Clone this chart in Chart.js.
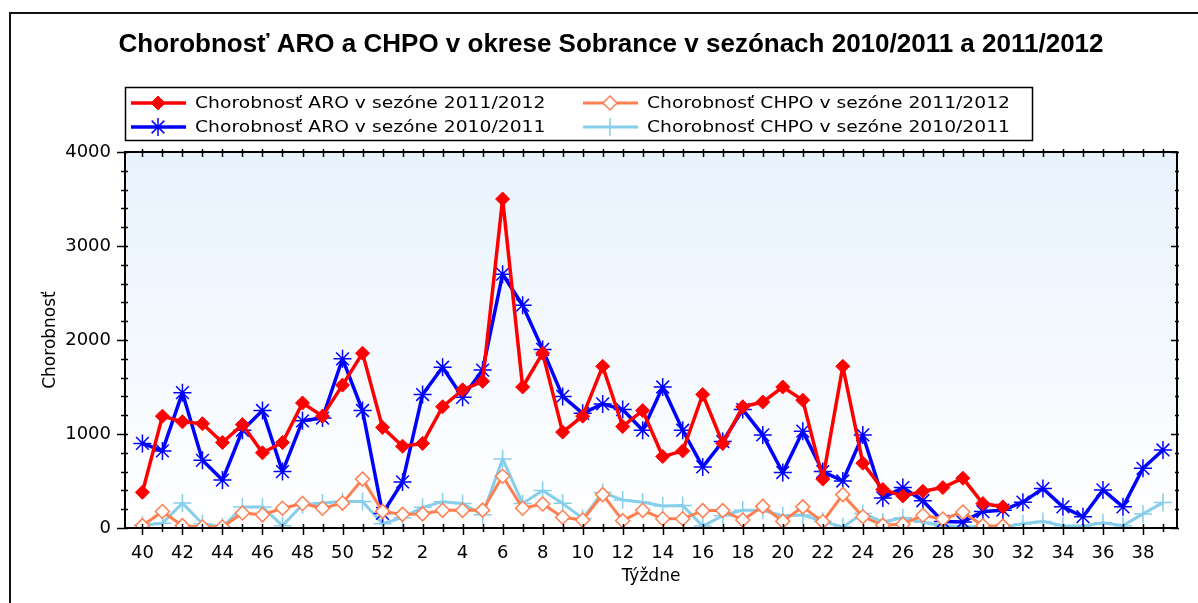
<!DOCTYPE html>
<html lang="sk">
<head>
<meta charset="UTF-8">
<title>Chorobnosť ARO a CHPO - Sobrance</title>
<style>
  html, body { margin: 0; padding: 0; background: #fff; }
  #graf { display: block; }
</style>
</head>
<body>
<canvas id="graf" width="1198" height="603"></canvas>

<script src="https://cdn.jsdelivr.net/npm/chart.js"></script>
<script>
// tyzdne sezony (40. tyzden az 39. tyzden nasledujuceho roka)
const tyzdne = [40,41,42,43,44,45,46,47,48,49,50,51,52,
  1,2,3,4,5,6,7,8,9,10,11,12,13,14,15,16,17,18,19,20,
  21,22,23,24,25,26,27,28,29,30,31,32,33,34,35,36,37,38,39]

// chorobnost ARO / CHPO (odcitane z grafu)
const aro1112 = [380,1190,1130,1110,910,1100,800,910,1330,1190,1520,1860,1070,
  870,900,1290,1470,1560,3500,1500,1860,1020,1190,1720,1080,1250,760,820,1420,
  900,1290,1340,1500,1360,520,1720,690,410,340,390,430,530,260,225]
const chpo1112 = [25,175,25,10,10,160,140,210,260,210,265,520,177,
  145,150,188,188,190,550,210,255,115,85,355,78,188,98,98,185,
  185,85,230,72,225,67,355,120,30,40,135,95,170,25,20]
const aro1011 = [900,820,1440,720,510,1040,1250,600,1140,1170,1800,1250,155,
  490,1420,1710,1390,1680,2700,2370,1900,1400,1220,1320,1260,1040,1500,1040,650,
  920,1260,990,590,1030,600,500,990,320,430,290,70,65,175,190,275,420,225,120,405,225,635,830]
const chpo1011 = [30,50,265,46,10,223,223,25,248,265,283,283,46,
  110,220,280,260,140,735,260,400,262,102,378,297,275,235,240,20,
  130,190,188,130,138,71,12,155,65,110,60,25,15,10,10,45,70,25,20,55,25,150,270]

const yZnacky = [0,1000,2000,3000,4000]
const nadpis = 'Chorobnosť ARO a CHPO v okrese Sobrance v sezónach 2010/2011 a 2011/2012'
const nazvy = ['Chorobnosť ARO v sezóne 2011/2012','Chorobnosť CHPO v sezóne 2011/2012',
  'Chorobnosť ARO v sezóne 2010/2011','Chorobnosť CHPO v sezóne 2010/2011']

const body = arr => arr.map((v, i) => ({x: i, y: v}))

const pismo = '"DejaVu Sans", Verdana, sans-serif'

// pozadie: ramik okolo obrazku + prechod v oblasti grafu
const pozadie = {
  id: 'pozadie',
  beforeDraw(chart) {
    const {ctx, chartArea: a} = chart
    ctx.save()
    ctx.fillStyle = '#fff'
    ctx.fillRect(0, 0, chart.width, chart.height)
    const g = ctx.createLinearGradient(0, a.top, 0, a.bottom)
    g.addColorStop(0, '#e8f2fd')
    g.addColorStop(1, '#ffffff')
    ctx.fillStyle = g
    ctx.fillRect(a.left, a.top, a.right - a.left, a.bottom - a.top)
    ctx.strokeStyle = '#111'
    ctx.lineWidth = 2
    ctx.beginPath()
    ctx.moveTo(10, chart.height)
    ctx.lineTo(10, 13)
    ctx.lineTo(chart.width, 13)
    ctx.stroke()
    // nadpis (v predlohe je posunuty trochu doprava od stredu)
    ctx.fillStyle = '#000'
    ctx.font = 'bold 26px "Liberation Sans", Arial, sans-serif'
    ctx.textAlign = 'center'
    ctx.textBaseline = 'middle'
    ctx.fillText(nadpis, 611, 45)
    ctx.restore()
  }
}

// ramik oblasti grafu a ciarky na osiach
const osi = {
  id: 'osi',
  afterDraw(chart) {
    const {ctx, chartArea: a, scales: {x, y}} = chart
    ctx.save()
    ctx.strokeStyle = '#000'
    ctx.lineWidth = 2
    ctx.strokeRect(a.left, a.top, a.right - a.left, a.bottom - a.top)
    ctx.lineWidth = 1.5
    ctx.beginPath()
    tyzdne.forEach((w, i) => {
      const px = Math.round(x.getPixelForValue(i)) + 0.5
      ctx.moveTo(px, a.bottom - 4)
      ctx.lineTo(px, a.bottom + (i % 2 === 0 ? 7 : 4))
      ctx.moveTo(px, a.top - 3)
      ctx.lineTo(px, a.top + 5)
    })
    for (let v = 0; v <= 4000; v += 200) {
      const py = Math.round(y.getPixelForValue(v)) + 0.5
      const hlavna = v % 1000 === 0
      ctx.moveTo(a.left - (hlavna ? 8 : 4), py)
      ctx.lineTo(a.left + 3, py)
      ctx.moveTo(a.right - (hlavna ? 6 : 2), py)
      ctx.lineTo(a.right + 2, py)
    }
    ctx.stroke()
    ctx.restore()
  }
}

// legenda v ramceku, dva stlpce (text trochu roztiahnuty do sirky ako v predlohe)
const legenda = {
  id: 'legenda',
  afterDraw(chart) {
    const ctx = chart.ctx
    ctx.save()
    ctx.strokeStyle = '#000'
    ctx.lineWidth = 1.5
    ctx.strokeRect(125.5, 87.5, 907, 53)
    const poz = [[131, 103], [583, 103], [131, 127], [583, 127]]
    chart.data.datasets.forEach((ds, i) => {
      const [lx, ly] = poz[i]
      ctx.strokeStyle = ds.borderColor
      ctx.lineWidth = ds.borderWidth
      ctx.beginPath()
      ctx.moveTo(lx, ly)
      ctx.lineTo(lx + 55, ly)
      ctx.stroke()
      ctx.fillStyle = ds.pointBackgroundColor
      ctx.strokeStyle = ds.pointBorderColor
      ctx.lineWidth = ds.pointBorderWidth
      Chart.helpers.drawPoint(ctx, {pointStyle: ds.pointStyle, radius: ds.pointRadius,
        borderWidth: ds.pointBorderWidth, rotation: 0}, lx + 27, ly)
      ctx.save()
      ctx.translate(lx + 64, ly + 1)
      ctx.scale(1.17, 1)
      ctx.fillStyle = '#000'
      ctx.font = '16px ' + pismo
      ctx.textBaseline = 'middle'
      ctx.fillText(ds.label, 0, 0)
      ctx.restore()
    })
    ctx.restore()
  }
}

const ctx = document.getElementById('graf')

const graf = new Chart(ctx, {
  type: 'line',
  data: {
    datasets: [{
      label: nazvy[0],
      data: body(aro1112),
      borderColor: '#ff0000',
      borderWidth: 3.5,
      borderJoinStyle: 'round',
      pointStyle: 'rectRot',
      pointRadius: 7,
      pointBackgroundColor: '#ff0000',
      pointBorderColor: '#ff0000',
      pointBorderWidth: 1
    }, {
      label: nazvy[1],
      data: body(chpo1112),
      borderColor: '#ff7f50',
      borderWidth: 3,
      borderJoinStyle: 'round',
      pointStyle: 'rectRot',
      pointRadius: 7,
      pointBackgroundColor: '#ffffff',
      pointBorderColor: '#ff7f50',
      pointBorderWidth: 1.5
    }, {
      label: nazvy[2],
      data: body(aro1011),
      borderColor: '#0000ff',
      borderWidth: 3.5,
      borderJoinStyle: 'round',
      pointStyle: 'star',
      pointRadius: 9,
      pointBackgroundColor: '#0000ff',
      pointBorderColor: '#0000ff',
      pointBorderWidth: 1.5
    }, {
      label: nazvy[3],
      data: body(chpo1011),
      borderColor: '#87ceeb',
      borderWidth: 3,
      borderJoinStyle: 'round',
      pointStyle: 'cross',
      pointRadius: 9,
      pointBackgroundColor: '#87ceeb',
      pointBorderColor: '#87ceeb',
      pointBorderWidth: 1.5
    }]
  },
  options: {
    responsive: false,
    animation: false,
    layout: { padding: { left: 11, right: 21, top: 152, bottom: 12 } },
    plugins: {
      legend: { display: false },
      tooltip: { enabled: false },
      title: { display: false }
    },
    scales: {
      x: {
        type: 'linear',
        min: -0.87,
        max: 51.7,
        afterBuildTicks: s => { s.ticks = tyzdne.map((w, i) => ({value: i})) },
        afterFit: s => { s.height = 63 },
        grid: { display: false },
        border: { display: false },
        ticks: {
          autoSkip: false,
          maxRotation: 0,
          padding: 7,
          color: '#000',
          font: { family: pismo, size: 18 },
          callback: (v, i) => (i % 2 === 0 ? String(tyzdne[i]) : '')
        },
        title: {
          display: true,
          text: 'Týždne',
          color: '#000',
          font: { family: pismo, size: 17 },
          padding: { top: 0, bottom: 4 }
        }
      },
      y: {
        min: 0,
        max: 4000,
        afterBuildTicks: s => { s.ticks = yZnacky.map(v => ({value: v})) },
        afterFit: s => { s.width = 114 },
        grid: { display: false },
        border: { display: false },
        ticks: {
          padding: 6,
          color: '#000',
          font: { family: pismo, size: 18 },
          callback: v => String(v)
        },
        title: {
          display: true,
          text: 'Chorobnosť',
          color: '#000',
          font: { family: pismo, size: 17 },
          padding: { top: 29, bottom: 0 }
        }
      }
    }
  },
  plugins: [pozadie, osi, legenda]
})
</script>
</body>
</html>
